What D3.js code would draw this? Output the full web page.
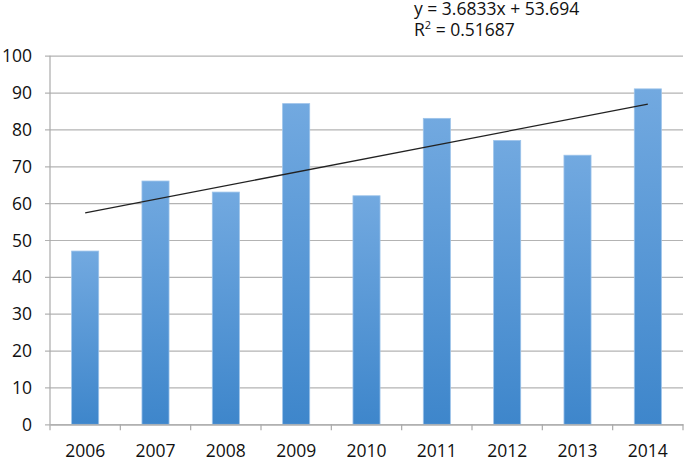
<!DOCTYPE html>
<html><head><meta charset="utf-8">
<script src="https://cdn.jsdelivr.net/npm/d3@7"></script>
<style>body{margin:0;background:#fff}svg{display:block}text{font-family:"Open Sans",sans-serif;fill:#111}</style>
</head><body><svg id="c" width="685" height="461"></svg>
<script>
const years = ["2006","2007","2008","2009","2010","2011","2012","2013","2014"];
const values = [47,66,63,87,62,83,77,73,91];
const yTicks = [0,10,20,30,40,50,60,70,80,90,100];
const trendSlope = 3.6833, trendIntercept = 53.694;
const eqLines = ["y = 3.6833x + 53.694", "R2 = 0.51687"];

(function(){
const svg = d3.select("#c");
const mLeft = 50, mRight = 683, mTop = 55.7, mBottom = 424.3;
const x = d3.scaleBand().domain(years).range([mLeft, mRight]).paddingInner(0.615).paddingOuter(0.3075);
const xb = d3.scaleBand().domain(years).range([mLeft, mRight]);
const y = d3.scaleLinear().domain([0,100]).range([mBottom, mTop]);

const defs = svg.append("defs");
const g = defs.append("linearGradient").attr("id","bg").attr("x1",0).attr("y1",0).attr("x2",0).attr("y2",1);
g.append("stop").attr("offset","0%").attr("stop-color","#72a9e0");
g.append("stop").attr("offset","100%").attr("stop-color","#3e86cb");

// gridlines + y axis ticks
const ya = d3.axisLeft(y).tickValues(yTicks).tickSize(-(mRight-mLeft)).tickSizeOuter(0).tickPadding(12);
const yg = svg.append("g").attr("transform",`translate(${mLeft},0)`).call(ya);
yg.select(".domain").remove();
yg.selectAll(".tick line").attr("stroke","#b3b3b3").attr("stroke-width",1.2).attr("x1",-5);
yg.selectAll(".tick text").attr("x",-18).style("font-size","17.5px").style("font-family","'Open Sans',sans-serif").attr("fill","#111").attr("dy","0.35em");

// y axis line
svg.append("line").attr("x1",mLeft).attr("x2",mLeft).attr("y1",mTop).attr("y2",mBottom).attr("stroke","#aaa").attr("stroke-width",1.2);

// bars
svg.selectAll("rect.bar").data(values).join("rect").attr("class","bar")
  .attr("x",(d,i)=>x(years[i])).attr("width",x.bandwidth())
  .attr("y",d=>y(d)).attr("height",d=>y(0)-y(d))
  .attr("fill","url(#bg)").attr("stroke","#9cc3ea").attr("stroke-width",0.8);

// x axis
const xa = d3.axisBottom(xb).tickSize(0).tickPadding(20).tickSizeOuter(0);
const xg = svg.append("g").attr("transform",`translate(0,${mBottom})`).call(xa);
xg.select(".domain").attr("stroke","#aaa").attr("stroke-width",1.2);
xg.selectAll(".tick text").style("font-size","17.5px").style("font-family","'Open Sans',sans-serif").attr("fill","#111");
// category boundary ticks
const bounds = years.map(d=>xb(d)).concat([mRight]);
svg.selectAll("line.bt").data(bounds).join("line").attr("class","bt")
  .attr("x1",d=>d).attr("x2",d=>d).attr("y1",mBottom).attr("y2",mBottom+6)
  .attr("stroke","#aaa").attr("stroke-width",1.2);

// trendline
const c = d => xb(d)+xb.bandwidth()/2;
const t1 = trendIntercept + trendSlope*1, t9 = trendIntercept + trendSlope*years.length;
svg.append("line").attr("x1",c(years[0])).attr("x2",c(years[years.length-1]))
  .attr("y1",y(t1)).attr("y2",y(t9)).attr("stroke","#222").attr("stroke-width",1.3);

// equation
svg.append("text").attr("x",414).attr("y",15).style("font-size","17.5px").text(eqLines[0]);
const t2 = svg.append("text").attr("x",414).attr("y",36).style("font-size","17.5px");
t2.append("tspan").text("R");
t2.append("tspan").attr("dy",-7).style("font-size","11px").text("2");
t2.append("tspan").attr("dy",7).text(" = 0.51687");
})();
</script></body></html>
